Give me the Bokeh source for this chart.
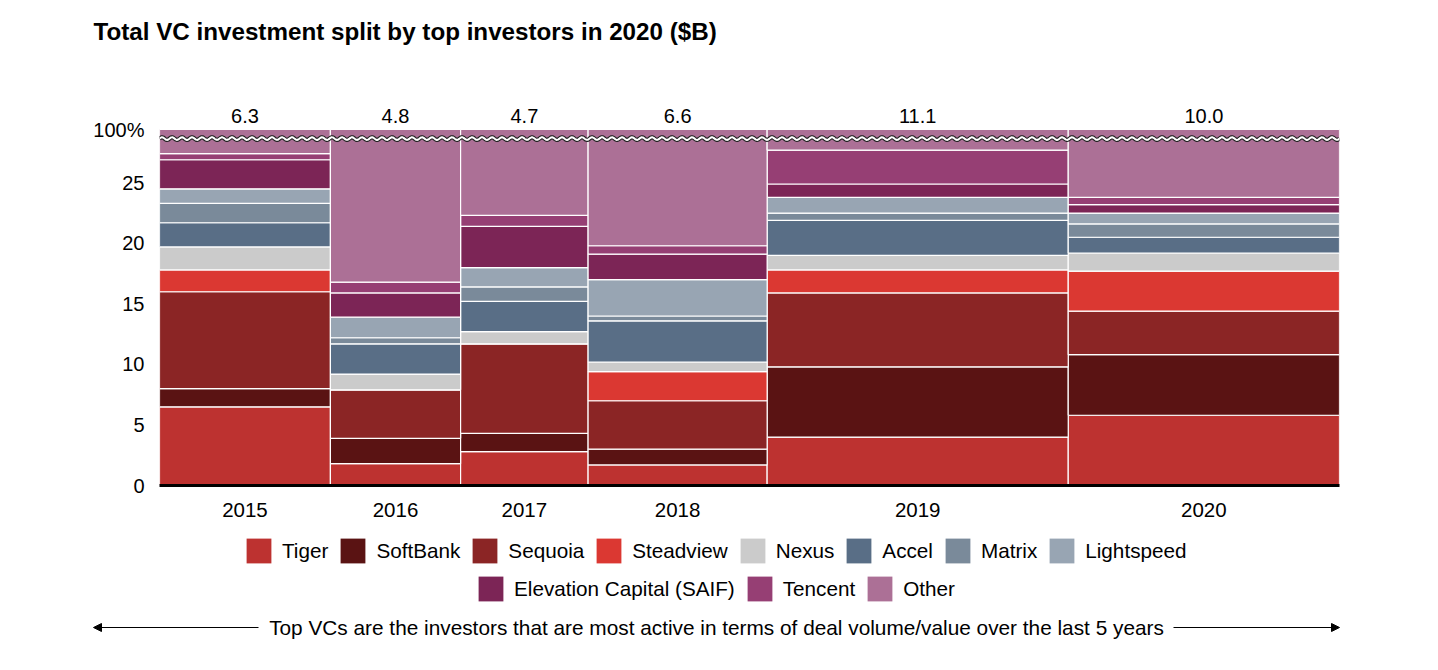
import numpy as np
from bokeh.plotting import figure
from bokeh.layouts import column
from bokeh.models import (FixedTicker, Legend, LegendItem, ColumnDataSource,
                          Arrow, NormalHead, Range1d)
from bokeh.core.properties import value
from bokeh.embed import file_html
from bokeh.resources import INLINE

# ---------------- data ----------------
years = ["2015", "2016", "2017", "2018", "2019", "2020"]
totals = [6.3, 4.8, 4.7, 6.6, 11.1, 10.0]          # $B, column widths
total_labels = ["6.3", "4.8", "4.7", "6.6", "11.1", "10.0"]

investors = ["Tiger", "SoftBank", "Sequoia", "Steadview", "Nexus", "Accel",
             "Matrix", "Lightspeed", "Elevation Capital (SAIF)", "Tencent", "Other"]
# share of yearly investment (%)
tiger      = [6.5, 1.8, 2.8, 1.7, 4.0, 5.8]
softbank   = [1.5, 2.1, 1.5, 1.3, 5.8, 5.0]
sequoia    = [8.0, 4.0, 7.4, 4.0, 6.1, 3.6]
steadview  = [1.8, 0.0, 0.0, 2.4, 1.9, 3.3]
nexus      = [1.9, 1.3, 1.0, 0.8, 1.2, 1.5]
accel      = [2.0, 2.5, 2.5, 3.4, 2.9, 1.3]
matrix     = [1.6, 0.5, 1.2, 0.4, 0.6, 1.1]
lightspeed = [1.2, 1.7, 1.6, 3.0, 1.3, 0.9]
elevation  = [2.4, 2.0, 3.4, 2.1, 1.1, 0.7]
tencent    = [0.5, 0.9, 0.9, 0.7, 2.8, 0.6]
series = [tiger, softbank, sequoia, steadview, nexus, accel, matrix,
          lightspeed, elevation, tencent]
other = [100 - sum(s[i] for s in series) for i in range(len(years))]

y_ticks = [0, 5, 10, 15, 20, 25]
AXIS_TOP = 29.4      # display position of the 100% tick (broken axis)
BREAK_AT = 28.65     # display position of the axis break

colors = ["#BD3230", "#5A1313", "#8B2525", "#DB3832", "#CBCBCB", "#596E86",
          "#7A8A9A", "#98A5B3", "#7C2556", "#963F74", "#AC7096"]

TITLE = "Total VC investment split by top investors in 2020 ($B)"
NOTE = "Top VCs are the investors that are most active in terms of deal volume/value over the last 5 years"
FONT = "Liberation Sans"

# ---------------- layout geometry (pixels) ----------------
W, H = 1438, 670
FL, FR = 159, 1339          # plot frame left/right
TOP_H = 92                  # title strip height
Y100, FB = 129, 485         # pixel rows of the 100% tick and of zero
MAIN_BOTTOM = 522
XMAX = sum(totals)
PPU = (FB - Y100) / AXIS_TOP                 # pixels per display unit
Y_END = (FB - TOP_H) / PPU                   # room above the bars for totals

lefts = list(np.cumsum([0] + totals[:-1]))
rights = list(np.cumsum(totals))
centers = [(l + r) / 2 for l, r in zip(lefts, rights)]

# ---------------- top strip: title ----------------
top = figure(width=W, height=TOP_H, output_backend="svg", toolbar_location=None,
             x_range=Range1d(0, W), y_range=Range1d(TOP_H, 0),
             min_border=0, frame_align=False)
top.axis.visible = False
top.grid.visible = False
top.outline_line_color = None
top.text(x=[93], y=[31], text=[TITLE], text_font=value(FONT),
         text_font_style="bold", text_font_size="24.2px", text_baseline="middle",
         text_align="left", text_color="black")

# ---------------- main chart ----------------
p = figure(width=W, height=MAIN_BOTTOM - TOP_H, output_backend="svg", toolbar_location=None,
           x_range=Range1d(0, XMAX), y_range=Range1d(0, Y_END),
           min_border_left=FL, min_border_right=W - FR,
           min_border_top=0, min_border_bottom=MAIN_BOTTOM - FB, frame_align=False)
p.outline_line_color = None
p.grid.visible = False

base = [0.0] * len(years)
for name, vals, col in zip(investors[:-1], series, colors[:-1]):
    tops = [b + v for b, v in zip(base, vals)]
    src = ColumnDataSource(dict(left=lefts, right=rights, bottom=base, top=tops))
    p.quad(left="left", right="right", bottom="bottom", top="top", source=src,
           fill_color=col, line_color="white", line_width=1.2)
    base = tops
src = ColumnDataSource(dict(left=lefts, right=rights, bottom=base,
                            top=[AXIS_TOP] * len(years)))
p.quad(left="left", right="right", bottom="bottom", top="top", source=src,
       fill_color=colors[-1], line_color="white", line_width=1.2)

# axis break (wavy line)
wx = np.linspace(0, XMAX, 1200)
wpx = wx / XMAX * (FR - FL)
wy = BREAK_AT + 0.11 * np.sin(2 * np.pi * wpx / 10.0)
p.line(wx, wy, line_color="#222222", line_width=4.2)
p.line(wx, wy, line_color="white", line_width=2.0)

# column totals above the bars
p.text(x=centers, y=[(FB - 115) / PPU] * len(centers), text=total_labels,
       text_font=value(FONT), text_font_size="20px", text_baseline="middle",
       text_align="center", text_color="black")

p.yaxis.ticker = FixedTicker(ticks=y_ticks + [AXIS_TOP])
p.yaxis.major_label_overrides = {AXIS_TOP: "100%"}
p.yaxis.axis_line_color = None
p.yaxis.major_tick_line_color = None
p.yaxis.minor_tick_line_color = None
p.yaxis.major_label_text_font = FONT
p.yaxis.major_label_text_font_size = "20px"
p.yaxis.major_label_text_color = "black"
p.yaxis.major_label_standoff = 9

p.xaxis.ticker = FixedTicker(ticks=centers)
p.xaxis.major_label_overrides = {c: y for c, y in zip(centers, years)}
p.xaxis.axis_line_color = "black"
p.xaxis.axis_line_width = 3
p.xaxis.major_tick_line_color = None
p.xaxis.minor_tick_line_color = None
p.xaxis.major_label_text_font = FONT
p.xaxis.major_label_text_font_size = "20.5px"
p.xaxis.major_label_text_color = "black"
p.xaxis.major_label_standoff = 11

# ---------------- bottom strip: legend + note ----------------
BH = H - MAIN_BOTTOM
bot = figure(width=W, height=BH, output_backend="svg", toolbar_location=None,
             x_range=Range1d(0, W), y_range=Range1d(BH, 0), min_border=0,
             frame_align=False)
bot.axis.visible = False
bot.grid.visible = False
bot.outline_line_color = None

legend_renderers = []
for col in colors:
    s = ColumnDataSource(dict(left=[np.nan], right=[np.nan], bottom=[np.nan], top=[np.nan]))
    legend_renderers.append(bot.quad(left="left", right="right", bottom="bottom", top="top",
                                     source=s, fill_color=col, line_color=None))

def make_legend(idx, loc):
    return Legend(items=[LegendItem(label=investors[i], renderers=[legend_renderers[i]]) for i in idx],
                  location=loc, orientation="horizontal",
                  glyph_width=31, glyph_height=31, label_standoff=8, spacing=9,
                  padding=0, margin=0, border_line_color=None, background_fill_alpha=0,
                  label_text_font=FONT, label_text_font_size="20.7px", label_text_color="black",
                  label_height=31)

bot.add_layout(make_legend(range(0, 8), (243, H - 566)))
bot.add_layout(make_legend(range(8, 11), (475, H - 604)))

NY = 627 - MAIN_BOTTOM
bot.text(x=[716], y=[NY], text=[NOTE], text_font=value(FONT), text_font_size="20.8px",
         text_baseline="middle", text_align="center", text_color="black")
bot.add_layout(Arrow(x_start=258, y_start=NY, x_end=93, y_end=NY,
                     line_color="black", line_width=1,
                     end=NormalHead(size=8, fill_color="black", line_color="black")))
bot.add_layout(Arrow(x_start=1173, y_start=NY, x_end=1339, y_end=NY,
                     line_color="black", line_width=1,
                     end=NormalHead(size=8, fill_color="black", line_color="black")))

layout = column(top, p, bot, spacing=0)
open("out.html", "w").write(file_html(layout, INLINE))
